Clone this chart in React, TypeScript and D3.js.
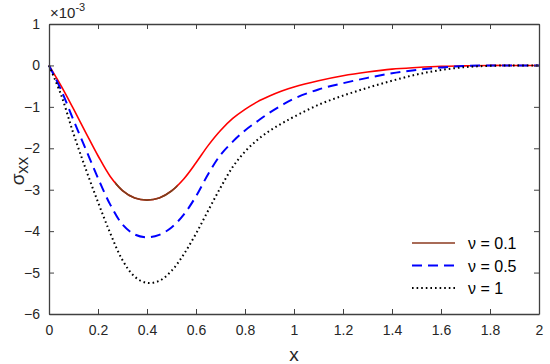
import React, { useEffect, useRef } from "react";
import * as d3 from "d3";

// sigma_xx (x 1e-3) against x for three values of nu
const xs = [0, 0.05, 0.1, 0.15, 0.2, 0.25, 0.3, 0.35, 0.4, 0.45, 0.5, 0.55, 0.6, 0.65, 0.7, 0.75, 0.8, 0.85, 0.9, 0.95, 1.0, 1.1, 1.2, 1.3, 1.4, 1.5, 1.6, 1.7, 1.8, 1.9, 2.0];
const nu01 = [0, -0.5, -1.05, -1.62, -2.18, -2.68, -3.02, -3.2, -3.25, -3.2, -3.03, -2.74, -2.35, -1.93, -1.57, -1.28, -1.06, -0.88, -0.74, -0.62, -0.52, -0.37, -0.25, -0.16, -0.09, -0.05, -0.02, -0.01, 0, 0, 0];
const nu05 = [0, -0.6, -1.32, -2.02, -2.72, -3.36, -3.84, -4.08, -4.15, -4.09, -3.91, -3.6, -3.16, -2.62, -2.16, -1.84, -1.57, -1.35, -1.14, -0.96, -0.8, -0.58, -0.43, -0.3, -0.19, -0.11, -0.05, -0.01, 0, 0, 0];
const nu1 = [0, -0.72, -1.65, -2.5, -3.3, -4.05, -4.7, -5.1, -5.25, -5.2, -4.96, -4.56, -4.06, -3.5, -2.95, -2.45, -2.08, -1.8, -1.58, -1.4, -1.24, -0.95, -0.73, -0.54, -0.37, -0.22, -0.11, -0.04, -0.01, 0, 0];
const xTicks = [0, 0.2, 0.4, 0.6, 0.8, 1, 1.2, 1.4, 1.6, 1.8, 2];
const yTicks = [1, 0, -1, -2, -3, -4, -5, -6];
const legendLabels = ["\u03bd = 0.1", "\u03bd = 0.5", "\u03bd = 1"];
// part of the nu = 0.1 curve that shows in a darker brown near its minimum
const brownRange = [0.27, 0.525];

const W = 550;
const H = 364;
const margin = { top: 24, right: 11, bottom: 50, left: 49 };
const font = "'Liberation Sans', Arial, sans-serif";
const axisColor = "#404040";

export default function App() {
  const ref = useRef<SVGSVGElement>(null);

  useEffect(() => {
    const svg = d3.select(ref.current);
    svg.selectAll("*").remove();
    const width = W - margin.left - margin.right;
    const height = H - margin.top - margin.bottom;

    const x = d3.scaleLinear().domain([0, 2]).range([0, width]);
    const y = d3.scaleLinear().domain([-6, 1]).range([height, 0]);

    svg
      .append("defs")
      .append("clipPath")
      .attr("id", "brown-clip")
      .append("rect")
      .attr("x", x(brownRange[0]))
      .attr("width", x(brownRange[1]) - x(brownRange[0]))
      .attr("y", 0)
      .attr("height", height);

    const g = svg
      .append("g")
      .attr("transform", "translate(" + margin.left + "," + margin.top + ")");

    const series = [
      { values: nu01, color: "#ff0000", legendColor: "#8b3a1f", width: 1.6, dash: null },
      { values: nu05, color: "#0000ff", legendColor: "#0000ff", width: 2, dash: "10,6" },
      { values: nu1, color: "#000000", legendColor: "#000000", width: 2, dash: "1.6,3" },
    ];

    const line = d3
      .line<number>()
      .x((d, i) => x(xs[i]))
      .y((d) => y(d))
      .curve(d3.curveCatmullRom.alpha(0.5));

    series.forEach((s) => {
      const p = g
        .append("path")
        .datum(s.values)
        .attr("fill", "none")
        .attr("stroke", s.color)
        .attr("stroke-width", s.width)
        .attr("d", line);
      if (s.dash) p.attr("stroke-dasharray", s.dash);
    });

    g.append("path")
      .datum(nu01)
      .attr("fill", "none")
      .attr("stroke", "#7d3f1c")
      .attr("stroke-width", 1.7)
      .attr("clip-path", "url(#brown-clip)")
      .attr("d", line);

    // axes box with inward ticks on all sides
    const tickLen = 5;
    const bottom = g
      .append("g")
      .attr("transform", "translate(0," + height + ")")
      .call(d3.axisBottom(x).tickValues(xTicks).tickSizeInner(-tickLen).tickSizeOuter(0).tickPadding(11).tickFormat(d3.format("")));
    const top = g
      .append("g")
      .call(d3.axisTop(x).tickValues(xTicks).tickSizeInner(-tickLen).tickSizeOuter(0).tickFormat(() => ""));
    const left = g
      .append("g")
      .call(d3.axisLeft(y).tickValues(yTicks).tickSizeInner(-tickLen).tickSizeOuter(0).tickPadding(9).tickFormat(d3.format("")));
    const right = g
      .append("g")
      .attr("transform", "translate(" + width + ",0)")
      .call(d3.axisRight(y).tickValues(yTicks).tickSizeInner(-tickLen).tickSizeOuter(0).tickFormat(() => ""));

    [bottom, top, left, right].forEach((a) => {
      a.selectAll("path").attr("stroke", axisColor).attr("stroke-width", 1.3);
      a.selectAll("line").attr("stroke", axisColor);
      a.selectAll("text").attr("fill", "#262626").style("font-size", "14px").style("font-family", font);
    });

    // axis labels
    svg
      .append("text")
      .attr("x", margin.left + width / 2)
      .attr("y", 361)
      .attr("text-anchor", "middle")
      .style("font-family", font)
      .style("font-size", "19px")
      .attr("fill", "#262626")
      .text("x");

    const yl = svg
      .append("text")
      .attr("transform", "translate(24," + (margin.top + height / 2 + 2) + ") rotate(-90)")
      .attr("text-anchor", "middle")
      .style("font-family", font)
      .style("font-size", "19px")
      .attr("fill", "#262626");
    yl.append("tspan").text("\u03c3");
    yl.append("tspan").attr("dy", 4).style("font-size", "17px").text("xx");

    const exp = svg
      .append("text")
      .attr("x", 50)
      .attr("y", 18)
      .style("font-family", font)
      .style("font-size", "15px")
      .attr("fill", "#262626");
    exp.append("tspan").text("\u00d710");
    exp.append("tspan").attr("dy", -7).style("font-size", "11px").text("-3");

    // legend
    const legend = g.append("g").attr("transform", "translate(" + (412 - margin.left) + "," + (243 - margin.top) + ")");
    series.forEach((s, i) => {
      const row = legend.append("g").attr("transform", "translate(0," + i * 22.5 + ")");
      const l = row
        .append("line")
        .attr("x1", 0)
        .attr("x2", 43)
        .attr("y1", 0)
        .attr("y2", 0)
        .attr("stroke", s.legendColor)
        .attr("stroke-width", s.width);
      if (s.dash) l.attr("stroke-dasharray", s.dash);
      row
        .append("text")
        .attr("x", 56)
        .attr("y", 6)
        .style("font-family", font)
        .style("font-size", "16px")
        .attr("fill", "#000")
        .text(legendLabels[i]);
    });
  }, []);

  return <svg ref={ref} width={W} height={H} style={{ position: "absolute", left: 0, top: 0 }} />;
}
